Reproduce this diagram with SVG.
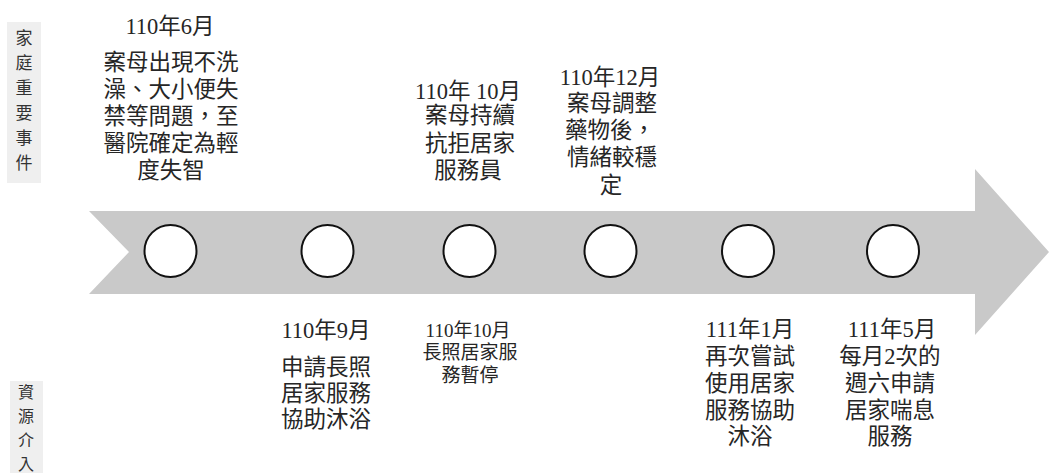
<svg xmlns="http://www.w3.org/2000/svg" width="1049" height="473" viewBox="0 0 1049 473">
<style>
  .t { font-family: "Liberation Serif", "Noto Sans CJK TC", serif; fill: #262626; text-anchor: middle; }
  .big { font-size: 22.5px; }
  .sm { font-size: 19px; }
  .side { font-family: "Noto Sans CJK TC", sans-serif; font-size: 17px; fill: #333; text-anchor: middle; }
  .side2 { font-family: "Noto Sans CJK TC", sans-serif; font-size: 16px; fill: #333; text-anchor: middle; }
  .sidebox { fill: #efefef; }
  .dot { fill: #ffffff; stroke: #111; stroke-width: 2; }
</style>
<rect width="1049" height="473" fill="#ffffff"/>

<g id="label-family">
  <rect class="sidebox" x="7" y="22" width="34" height="161"/>
  <text class="side" x="24" y="44">家<tspan x="24" dy="25">庭</tspan><tspan x="24" dy="25">重</tspan><tspan x="24" dy="25">要</tspan><tspan x="24" dy="25">事</tspan><tspan x="24" dy="25">件</tspan></text>
</g>
<g id="label-resource">
  <rect class="sidebox" x="10" y="381" width="33" height="92"/>
  <text class="side2" x="26" y="398">資</text>
  <text class="side2" x="26" y="422">源</text>
  <text class="side2" x="26" y="446">介</text>
  <text class="side2" x="26" y="470">入</text>
</g>

<g id="connectors">
  <polygon id="timeline-arrow" fill="#c9c9c9" points="89,211 975,211 975,169 1049,252 975,335 975,294 89,294 129,252"/>
</g>

<g id="node-1"><circle class="dot" cx="170.5" cy="251" r="26"/></g>
<g id="node-2"><circle class="dot" cx="327.5" cy="251" r="26"/></g>
<g id="node-3"><circle class="dot" cx="469.5" cy="251" r="26"/></g>
<g id="node-4"><circle class="dot" cx="610.5" cy="251" r="26"/></g>
<g id="node-5"><circle class="dot" cx="748" cy="251" r="26"/></g>
<g id="node-6"><circle class="dot" cx="893" cy="251" r="26"/></g>

<g id="event-1">
  <text class="t big" x="170" y="34">110年6月</text>
  <text class="t big" x="171" y="70">案母出現不洗</text>
  <text class="t big" x="171" y="97">澡、大小便失</text>
  <text class="t big" x="171" y="124">禁等問題，至</text>
  <text class="t big" x="171" y="151">醫院確定為輕</text>
  <text class="t big" x="171" y="178">度失智</text>
</g>
<g id="event-2">
  <text class="t big" x="468" y="99">110年 10月</text>
  <text class="t big" x="470" y="123">案母持續</text>
  <text class="t big" x="470" y="151">抗拒居家</text>
  <text class="t big" x="468" y="178">服務員</text>
</g>
<g id="event-3">
  <text class="t big" x="610" y="85">110年12月</text>
  <text class="t big" x="612" y="111">案母調整</text>
  <text class="t big" x="610" y="138">藥物後，</text>
  <text class="t big" x="612" y="165">情緒較穩</text>
  <text class="t big" x="611" y="193">定</text>
</g>

<g id="resource-1">
  <text class="t big" x="326" y="338">110年9月</text>
  <text class="t big" x="326" y="375">申請長照</text>
  <text class="t big" x="326" y="401">居家服務</text>
  <text class="t big" x="326" y="427">協助沐浴</text>
</g>
<g id="resource-2">
  <text class="t sm" x="468" y="337">110年10月</text>
  <text class="t sm" x="470" y="359">長照居家服</text>
  <text class="t sm" x="470" y="382">務暫停</text>
</g>
<g id="resource-3">
  <text class="t big" x="750" y="337">111年1月</text>
  <text class="t big" x="750" y="364">再次嘗試</text>
  <text class="t big" x="750" y="391">使用居家</text>
  <text class="t big" x="750" y="418">服務協助</text>
  <text class="t big" x="750" y="444">沐浴</text>
</g>
<g id="resource-4">
  <text class="t big" x="892" y="337">111年5月</text>
  <text class="t big" x="890" y="364">每月2次的</text>
  <text class="t big" x="890" y="391">週六申請</text>
  <text class="t big" x="890" y="418">居家喘息</text>
  <text class="t big" x="890" y="444">服務</text>
</g>
</svg>
